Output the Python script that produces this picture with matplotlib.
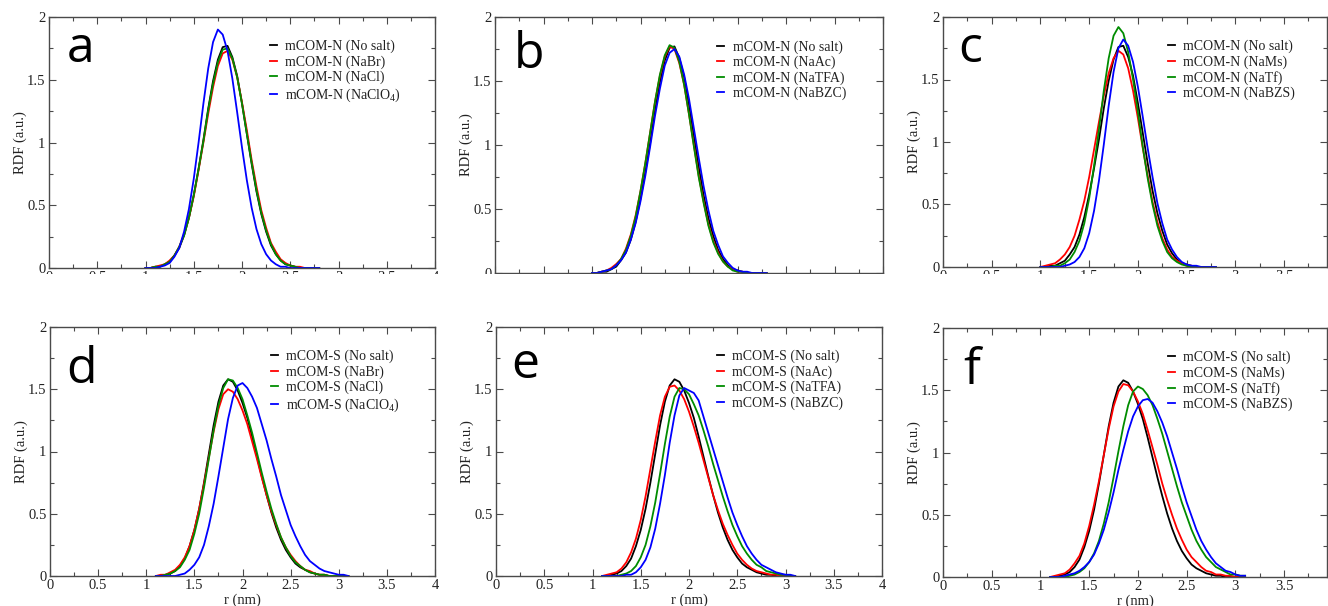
import matplotlib
matplotlib.use('Agg')
import matplotlib.pyplot as plt
from matplotlib.ticker import MultipleLocator, FormatStrFormatter
from matplotlib.patches import Rectangle

plt.rcParams['font.family'] = ['Liberation Serif', 'DejaVu Serif']
plt.rcParams['mathtext.fontset'] = 'custom'
plt.rcParams['mathtext.rm'] = 'Liberation Serif'
plt.rcParams['mathtext.it'] = 'Liberation Serif:italic'

# ---------------- data ----------------
r_N = [1.00, 1.05, 1.10, 1.15, 1.20, 1.25, 1.30, 1.35, 1.40, 1.45, 1.50, 1.55, 1.60,
       1.65, 1.70, 1.75, 1.80, 1.85, 1.90, 1.95, 2.00, 2.05, 2.10, 2.15, 2.20, 2.25,
       2.30, 2.35, 2.40, 2.45, 2.50, 2.55, 2.60, 2.65, 2.70, 2.75, 2.80]
r_S = [1.10, 1.15, 1.20, 1.25, 1.30, 1.35, 1.40, 1.45, 1.50, 1.55, 1.60, 1.65, 1.70,
       1.75, 1.80, 1.85, 1.90, 1.95, 2.00, 2.05, 2.10, 2.15, 2.20, 2.25, 2.30, 2.35,
       2.40, 2.45, 2.50, 2.55, 2.60, 2.65, 2.70, 2.75, 2.80, 2.85, 2.90, 2.95, 3.00,
       3.05, 3.10]

# mCOM-N RDFs
N_nosalt = [0.00, 0.00, 0.01, 0.01, 0.03, 0.05, 0.10, 0.16, 0.26, 0.40, 0.58, 0.79, 1.02,
            1.27, 1.49, 1.66, 1.76, 1.77, 1.68, 1.53, 1.31, 1.07, 0.83, 0.61, 0.43, 0.29,
            0.18, 0.11, 0.06, 0.03, 0.02, 0.01, 0.00, 0.00, 0.00, 0.00, 0.00]
N_NaBr = [0.00, 0.00, 0.01, 0.02, 0.03, 0.06, 0.10, 0.17, 0.27, 0.40, 0.57, 0.78, 1.00,
          1.23, 1.44, 1.61, 1.71, 1.73, 1.66, 1.52, 1.32, 1.10, 0.86, 0.65, 0.46, 0.32,
          0.20, 0.13, 0.07, 0.04, 0.02, 0.01, 0.01, 0.00, 0.00, 0.00, 0.00]
N_NaCl = [0.00, 0.00, 0.01, 0.01, 0.03, 0.05, 0.10, 0.17, 0.26, 0.40, 0.58, 0.79, 1.01,
          1.26, 1.47, 1.64, 1.74, 1.75, 1.67, 1.52, 1.31, 1.07, 0.84, 0.62, 0.44, 0.30,
          0.19, 0.11, 0.06, 0.03, 0.02, 0.01, 0.00, 0.00, 0.00, 0.00, 0.00]
N_NaClO4 = [0.00, 0.00, 0.00, 0.01, 0.02, 0.04, 0.09, 0.16, 0.29, 0.47, 0.71, 1.00, 1.31,
            1.59, 1.80, 1.90, 1.86, 1.73, 1.51, 1.24, 0.96, 0.70, 0.48, 0.31, 0.19, 0.11,
            0.06, 0.03, 0.01, 0.01, 0.00, 0.00, 0.00, 0.00, 0.00, 0.00, 0.00]
N_NaAc = [0.00, 0.00, 0.01, 0.02, 0.04, 0.07, 0.11, 0.19, 0.30, 0.45, 0.64, 0.86, 1.10,
          1.34, 1.54, 1.69, 1.77, 1.75, 1.64, 1.47, 1.24, 1.00, 0.76, 0.56, 0.38, 0.25,
          0.16, 0.09, 0.05, 0.03, 0.01, 0.01, 0.00, 0.00, 0.00, 0.00, 0.00]
N_NaTFA = [0.00, 0.00, 0.01, 0.02, 0.03, 0.06, 0.11, 0.18, 0.29, 0.44, 0.64, 0.86, 1.10,
           1.34, 1.55, 1.70, 1.78, 1.76, 1.65, 1.47, 1.24, 0.99, 0.75, 0.55, 0.37, 0.24,
           0.15, 0.09, 0.05, 0.02, 0.01, 0.01, 0.00, 0.00, 0.00, 0.00, 0.00]
N_NaBZC = [0.00, 0.00, 0.01, 0.02, 0.03, 0.06, 0.10, 0.16, 0.26, 0.39, 0.56, 0.76, 0.99,
           1.23, 1.44, 1.62, 1.72, 1.75, 1.69, 1.55, 1.36, 1.13, 0.90, 0.68, 0.49, 0.33,
           0.22, 0.13, 0.08, 0.04, 0.02, 0.01, 0.01, 0.00, 0.00, 0.00, 0.00]
N_NaMs = [0.00, 0.01, 0.02, 0.03, 0.06, 0.10, 0.16, 0.25, 0.38, 0.53, 0.72, 0.94, 1.16,
          1.37, 1.55, 1.67, 1.73, 1.70, 1.59, 1.41, 1.19, 0.95, 0.73, 0.52, 0.36, 0.23,
          0.14, 0.08, 0.05, 0.03, 0.01, 0.01, 0.00, 0.00, 0.00, 0.00, 0.00]
N_NaTf = [0.00, 0.00, 0.00, 0.01, 0.01, 0.03, 0.06, 0.12, 0.21, 0.35, 0.55, 0.81, 1.10,
          1.41, 1.67, 1.85, 1.92, 1.87, 1.72, 1.50, 1.24, 0.96, 0.71, 0.50, 0.33, 0.21,
          0.12, 0.07, 0.04, 0.02, 0.01, 0.00, 0.00, 0.00, 0.00, 0.00, 0.00]
N_NaBZS = [0.00, 0.00, 0.00, 0.00, 0.00, 0.01, 0.02, 0.04, 0.08, 0.15, 0.27, 0.45, 0.69,
           0.98, 1.29, 1.56, 1.75, 1.82, 1.77, 1.64, 1.44, 1.20, 0.95, 0.72, 0.51, 0.35,
           0.22, 0.14, 0.08, 0.04, 0.02, 0.01, 0.01, 0.00, 0.00, 0.00, 0.00]

# mCOM-S RDFs
S_nosalt = [0.00, 0.00, 0.01, 0.02, 0.04, 0.08, 0.14, 0.24, 0.37, 0.54, 0.75, 0.98, 1.21,
            1.40, 1.53, 1.58, 1.56, 1.49, 1.39, 1.27, 1.12, 0.96, 0.80, 0.65, 0.51, 0.39,
            0.29, 0.21, 0.15, 0.10, 0.07, 0.05, 0.03, 0.02, 0.01, 0.01, 0.00, 0.00, 0.00,
            0.00, 0.00]
S_NaBr = [0.00, 0.01, 0.01, 0.03, 0.05, 0.09, 0.15, 0.24, 0.37, 0.54, 0.74, 0.95, 1.16,
          1.34, 1.46, 1.50, 1.48, 1.42, 1.33, 1.22, 1.08, 0.94, 0.79, 0.65, 0.52, 0.41,
          0.31, 0.23, 0.17, 0.12, 0.08, 0.05, 0.04, 0.02, 0.01, 0.01, 0.00, 0.00, 0.00,
          0.00, 0.00]
S_NaCl = [0.00, 0.00, 0.01, 0.02, 0.04, 0.07, 0.13, 0.21, 0.34, 0.50, 0.71, 0.94, 1.17,
          1.37, 1.51, 1.58, 1.57, 1.51, 1.42, 1.29, 1.15, 0.99, 0.83, 0.68, 0.54, 0.42,
          0.31, 0.23, 0.16, 0.11, 0.08, 0.05, 0.03, 0.02, 0.01, 0.01, 0.00, 0.00, 0.00,
          0.00, 0.00]
S_NaClO4 = [0.00, 0.00, 0.00, 0.00, 0.00, 0.01, 0.02, 0.05, 0.09, 0.15, 0.25, 0.40, 0.58,
            0.80, 1.03, 1.26, 1.43, 1.53, 1.55, 1.51, 1.44, 1.35, 1.22, 1.09, 0.94, 0.80,
            0.65, 0.53, 0.41, 0.32, 0.24, 0.17, 0.12, 0.09, 0.06, 0.04, 0.03, 0.02, 0.01,
            0.01, 0.00]
S_NaAc = [0.00, 0.01, 0.02, 0.03, 0.06, 0.11, 0.19, 0.30, 0.45, 0.64, 0.86, 1.08, 1.29,
          1.44, 1.52, 1.53, 1.49, 1.42, 1.32, 1.20, 1.07, 0.93, 0.79, 0.65, 0.53, 0.42,
          0.33, 0.25, 0.18, 0.13, 0.09, 0.06, 0.04, 0.03, 0.02, 0.01, 0.01, 0.00, 0.00,
          0.00, 0.00]
S_NaTFA = [0.00, 0.00, 0.00, 0.00, 0.01, 0.02, 0.04, 0.08, 0.15, 0.25, 0.40, 0.59, 0.82,
           1.06, 1.28, 1.44, 1.51, 1.50, 1.46, 1.38, 1.29, 1.17, 1.04, 0.90, 0.77, 0.64,
           0.52, 0.41, 0.32, 0.24, 0.18, 0.13, 0.09, 0.07, 0.04, 0.03, 0.02, 0.01, 0.01,
           0.00, 0.00]
S_NaBZC = [0.00, 0.00, 0.00, 0.00, 0.00, 0.01, 0.01, 0.03, 0.07, 0.13, 0.23, 0.38, 0.58,
           0.81, 1.07, 1.29, 1.45, 1.51, 1.49, 1.47, 1.41, 1.28, 1.15, 1.02, 0.89, 0.76,
           0.63, 0.51, 0.41, 0.32, 0.24, 0.18, 0.13, 0.09, 0.07, 0.05, 0.03, 0.02, 0.01,
           0.01, 0.00]
S_NaMs = [0.00, 0.01, 0.02, 0.03, 0.06, 0.11, 0.17, 0.27, 0.41, 0.58, 0.77, 0.98, 1.19,
          1.37, 1.49, 1.55, 1.54, 1.49, 1.41, 1.31, 1.18, 1.04, 0.90, 0.75, 0.62, 0.50,
          0.39, 0.30, 0.22, 0.16, 0.12, 0.08, 0.05, 0.04, 0.02, 0.02, 0.01, 0.01, 0.00,
          0.00, 0.00]
S_NaTf = [0.00, 0.00, 0.00, 0.00, 0.01, 0.02, 0.04, 0.07, 0.12, 0.19, 0.29, 0.43, 0.60,
          0.80, 1.01, 1.21, 1.38, 1.49, 1.53, 1.51, 1.46, 1.38, 1.27, 1.15, 1.01, 0.87,
          0.73, 0.60, 0.49, 0.38, 0.29, 0.22, 0.16, 0.12, 0.08, 0.06, 0.04, 0.02, 0.02,
          0.01, 0.01]
S_NaBZS = [0.00, 0.00, 0.00, 0.01, 0.02, 0.03, 0.05, 0.08, 0.12, 0.18, 0.27, 0.38, 0.52,
           0.68, 0.86, 1.02, 1.17, 1.29, 1.37, 1.42, 1.43, 1.40, 1.33, 1.24, 1.13, 1.00,
           0.87, 0.73, 0.60, 0.49, 0.38, 0.29, 0.22, 0.16, 0.11, 0.08, 0.05, 0.04, 0.02,
           0.01, 0.01]

panel_letters = ['a', 'b', 'c', 'd', 'e', 'f']
panel_prefix = ['mCOM-N', 'mCOM-N', 'mCOM-N', 'mCOM-S', 'mCOM-S', 'mCOM-S']
panel_salts = [['No salt', 'NaBr', 'NaCl', 'NaClO$_4$'],
               ['No salt', 'NaAc', 'NaTFA', 'NaBZC'],
               ['No salt', 'NaMs', 'NaTf', 'NaBZS'],
               ['No salt', 'NaBr', 'NaCl', 'NaClO$_4$'],
               ['No salt', 'NaAc', 'NaTFA', 'NaBZC'],
               ['No salt', 'NaMs', 'NaTf', 'NaBZS']]
panel_r = [r_N, r_N, r_N, r_S, r_S, r_S]
panel_series = [[N_nosalt, N_NaBr, N_NaCl, N_NaClO4],
                [N_nosalt, N_NaAc, N_NaTFA, N_NaBZC],
                [N_nosalt, N_NaMs, N_NaTf, N_NaBZS],
                [S_nosalt, S_NaBr, S_NaCl, S_NaClO4],
                [S_nosalt, S_NaAc, S_NaTFA, S_NaBZC],
                [S_nosalt, S_NaMs, S_NaTf, S_NaBZS]]

# ---------------- layout / style ----------------
W, H = 1328, 606
colors = ['#000000', '#ff0000', '#008c00', '#0000ff']
# (left, top, right, bottom) in pixels; right-hand panels are cropped at the image edge
boxes = [(49, 17, 435, 268), (495, 17, 883, 273), (943, 17, 1327, 267),
         (50, 327, 435, 576), (496, 327, 882, 576), (943, 328, 1327, 577)]
xmax = [4.0, 4.0, 3.94, 4.0, 4.0, 3.94]
leg_x = [0.573, 0.573, 0.586, 0.573, 0.573, 0.586]
letter_pos = [(0.045, 0.82), (0.048, 0.80), (0.040, 0.82),
              (0.043, 0.775), (0.040, 0.795), (0.052, 0.775)]

fig = plt.figure(figsize=(W / 100, H / 100), dpi=100)
fig.patch.set_facecolor('white')
frame_col = '#4a4a4a'

for i in range(6):
    l, t, rr, b = boxes[i]
    ax = fig.add_axes([l / W, 1 - b / H, (rr - l) / W, (b - t) / H])
    for sname, yv, c in zip(panel_salts[i], panel_series[i], colors):
        ax.plot(panel_r[i], yv, color=c, lw=1.3,
                label=f'{panel_prefix[i]} ({sname})')
    ax.set_xlim(0, xmax[i])
    ax.set_ylim(0, 2)
    ax.xaxis.set_major_locator(MultipleLocator(0.5))
    ax.xaxis.set_minor_locator(MultipleLocator(0.25))
    ax.yaxis.set_major_locator(MultipleLocator(0.5))
    ax.yaxis.set_minor_locator(MultipleLocator(0.25))
    ax.xaxis.set_major_formatter(FormatStrFormatter('%g'))
    ax.yaxis.set_major_formatter(FormatStrFormatter('%g'))
    ax.tick_params(which='both', direction='in', top=True, right=True,
                   colors=frame_col, labelcolor='#222222', labelsize=10.5, pad=2.5)
    ax.tick_params(which='major', length=5, width=0.8)
    ax.tick_params(which='minor', length=3, width=0.8)
    for sp in ax.spines.values():
        sp.set_color(frame_col)
        sp.set_linewidth(1.0)
    ax.set_ylabel('RDF (a.u.)', fontsize=10.5, color='#222222')
    ax.yaxis.set_label_coords(-0.057, 0.5)
    if i >= 3:
        ax.set_xlabel('r (nm)', fontsize=10.5, color='#222222', labelpad=0.5)
    leg = ax.legend(loc='upper left', bbox_to_anchor=(leg_x[i], 0.909), frameon=False,
                    fontsize=10, handlelength=0.5, handletextpad=0.6,
                    borderpad=0, borderaxespad=0, labelspacing=0.15)
    for txt in leg.get_texts():
        txt.set_color('#222222')
    lx, ly = letter_pos[i]
    ax.text(lx, ly, panel_letters[i], transform=ax.transAxes, fontsize=36,
            family=['Open Sans', 'DejaVu Sans'], ha='left', va='baseline', color='black')

# the top row's x tick labels are cut off in the source figure
fig.add_artist(Rectangle((0, 1 - 312 / H), 1, (312 - 274) / H, transform=fig.transFigure,
                         facecolor='white', edgecolor='none', zorder=20))

fig.savefig('out.png', dpi=100)
